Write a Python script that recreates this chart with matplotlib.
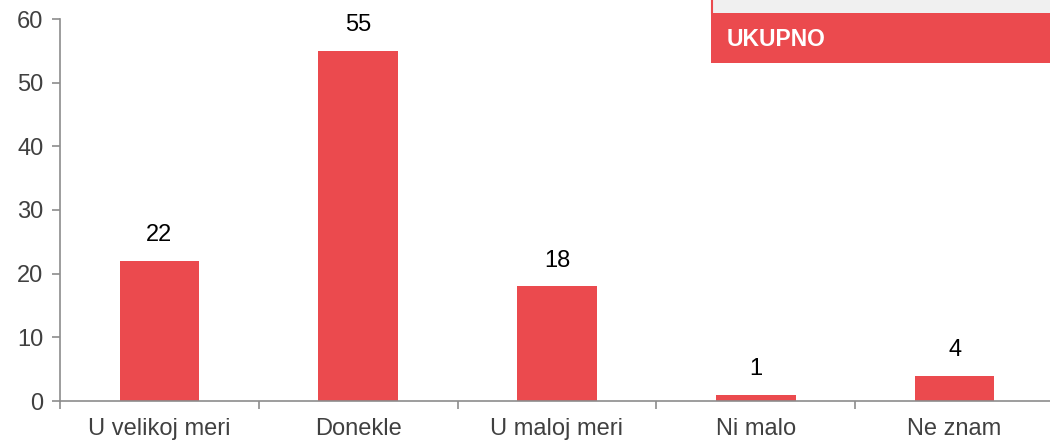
import matplotlib.pyplot as plt
import numpy as np
from matplotlib.patches import Rectangle

categories = ["U velikoj meri", "Donekle", "U maloj meri", "Ni malo", "Ne znam"]
values = [22, 55, 18, 1, 4]
legend_label = "UKUPNO"

red = "#EB4A4E"
gray_text = "#404040"
axis_gray = "#8C8C8C"

plt.rcParams['font.family'] = ['Liberation Sans', 'DejaVu Sans']

W, H = 1050, 441
fig = plt.figure(figsize=(W / 100, H / 100), dpi=100)
ax = fig.add_axes([60 / W, 1 - 401 / H, (1054 - 60) / W, (401 - 19) / H])

x = np.arange(len(categories))
ax.bar(x, values, width=0.4, color=red, zorder=2)
for xi, v in zip(x, values):
    ax.text(xi, v + 2.3, str(v), ha='center', va='bottom', fontsize=17, color='black')

ax.set_xlim(-0.5, len(categories) - 0.5)
ax.set_ylim(0, 60)
ax.set_yticks(range(0, 61, 10))
ax.tick_params(axis='y', labelsize=17, labelcolor=gray_text, color=axis_gray,
               length=6, width=1.2, pad=6)

ax.set_xticks(x)
ax.set_xticklabels(categories)
ax.tick_params(axis='x', length=0, labelsize=17, labelcolor=gray_text, pad=12)
ax.set_xticks(np.arange(-0.5, len(categories), 1), minor=True)
ax.tick_params(axis='x', which='minor', length=6, width=1.2, color=axis_gray)

for s in ['top', 'right']:
    ax.spines[s].set_visible(False)
for s in ['left', 'bottom']:
    ax.spines[s].set_color(axis_gray)
    ax.spines[s].set_linewidth(1.2)

# cropped legend box at top right
fig.patches.append(Rectangle((711 / W, 1 - 13 / H), (W - 711) / W, 13 / H,
                             transform=fig.transFigure, facecolor="#F0F0F0",
                             edgecolor='none', zorder=5))
fig.patches.append(Rectangle((711 / W, 1 - 63 / H), (W - 711) / W, 50 / H,
                             transform=fig.transFigure, facecolor=red,
                             edgecolor='none', zorder=6))
fig.add_artist(plt.Line2D([712 / W, 712 / W], [1 - 13 / H, 1], transform=fig.transFigure,
                          color=red, linewidth=1.5, zorder=7))
fig.text(727 / W, 1 - 40 / H, legend_label, color='white', fontsize=16.5,
         fontweight='bold', va='center', ha='left', zorder=7)

fig.savefig("out.png", dpi=100)
